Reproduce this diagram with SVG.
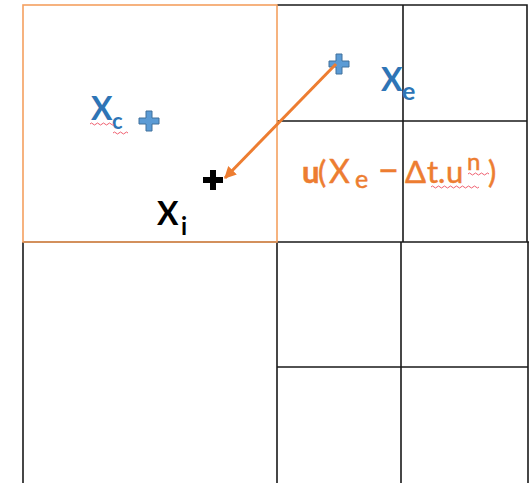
<svg xmlns="http://www.w3.org/2000/svg" width="531" height="483" viewBox="0 0 531 483">
<defs>
<style>
.grid{stroke:#1a1a1a;stroke-width:1.6;fill:none}
.sel{stroke:#f4a060;stroke-width:1.6;fill:none}
.t{font-family:Lato,"Open Sans","Liberation Sans",sans-serif}
.blue{fill:#2e75b6;font-weight:bold}
.blk{fill:#000;font-weight:bold}
.or{fill:#ed7d31;stroke:#ed7d31;stroke-width:0.5}
.sq{stroke:#f06070;stroke-width:1;fill:none}
.bplus{fill:#5b9bd5;stroke:#41719c;stroke-width:1}
</style>
<marker id="ah" viewBox="0 0 10 10" refX="9" refY="5" markerWidth="4" markerHeight="4" orient="auto" markerUnits="strokeWidth">
<path d="M0,0 L10,5 L0,10 z" fill="#ed7d31"/>
</marker>
</defs>
<rect width="531" height="483" fill="#fff"/>
<g id="grid">
<path class="grid" d="M277,5 H527 V242 M403,5 V242 M277,121 H527 M23,242 H529 M23,242 V483 M277,242 V483 M401,242 V483 M528,242 V483 M277,367 H528"/>
</g>
<g id="cell-selected">
<rect class="sel" x="23" y="5" width="254" height="237"/>
</g>
<g id="node-xc">
<text class="t blue" font-size="32"><tspan x="91" y="120">X</tspan><tspan x="112" y="129" font-size="22">c</tspan></text>
<path class="sq" d="M90,124 q1.5,-2 3,0 t3,0 t3,0 t3,0 t3,0 t3,0 t3,0 t3,0 M113,133 q1.5,-2 3,0 t3,0 t3,0 t3,0 t3,0"/>
<path class="bplus" d="M146,111 h6 v7 h7 v6 h-7 v7 h-6 v-7 h-7 v-6 h7 z"/>
</g>
<g id="node-xe">
<path class="bplus" d="M336,54 h6 v7 h7 v6 h-7 v7 h-6 v-7 h-7 v-6 h7 z"/>
<text class="t blue" font-size="32"><tspan x="381" y="91">X</tspan><tspan x="402" y="100" font-size="25">e</tspan></text>
</g>
<g id="node-xi">
<path d="M210,170 h6 v7 h7 v6 h-7 v7 h-6 v-7 h-7 v-6 h7 z" fill="#000"/>
<text class="t blk" font-size="32"><tspan x="157" y="225">X</tspan><tspan x="181" y="235" font-size="24">i</tspan></text>
</g>
<g id="label-formula">
<text class="t or" font-size="31"><tspan x="302" y="183" font-weight="bold">u</tspan><tspan x="318" y="183">(</tspan><tspan x="329" y="183" font-size="32">X</tspan><tspan x="355" y="188" font-size="25">e</tspan><tspan x="378" y="183" font-size="36">−</tspan><tspan x="405" y="183">Δ</tspan><tspan x="427" y="183">t</tspan><tspan x="438" y="183">.</tspan><tspan x="446" y="183">u</tspan><tspan x="467" y="170" font-size="24">n</tspan><tspan x="488" y="183">)</tspan></text>
<path class="sq" d="M431,187 q1.5,-2 3,0 t3,0 t3,0 t3,0 t3,0 t3,0 t3,0 t3,0 t3,0 t3,0 t3,0 t3,0 t3,0 t3,0 t3,0 t3,0 M468,174 q1.5,-2 3,0 t3,0 t3,0 t3,0 t3,0 t3,0 t3,0"/>
</g>
<g id="connectors">
<line x1="336" y1="64" x2="225" y2="178" stroke="#ed7d31" stroke-width="3" marker-end="url(#ah)"/>
</g>
</svg>
